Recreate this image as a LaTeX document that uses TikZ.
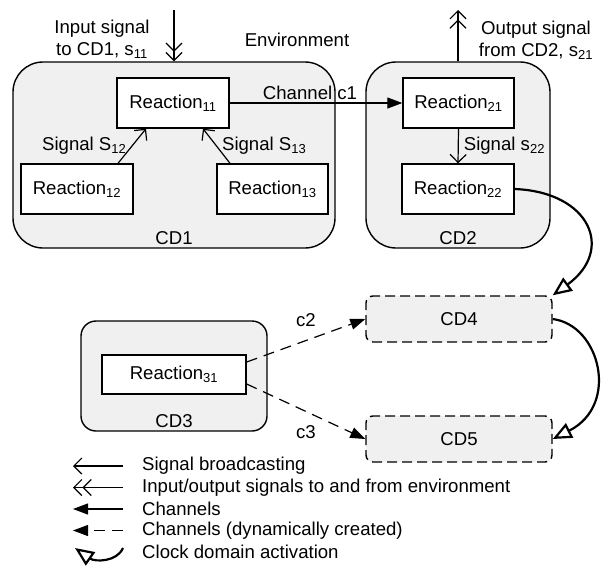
\documentclass[tikz,border=0pt]{standalone}
\usepackage{fontspec}
\setmainfont{Liberation Sans}
\usetikzlibrary{arrows.meta}

\definecolor{cdgray}{RGB}{240,240,240}

\tikzset{
  cdbox/.style={draw, fill=cdgray, line width=1.4pt, inner sep=0pt},
  dynbox/.style={draw, fill=cdgray, line width=1.4pt, dash pattern=on 10pt off 5pt,
    rounded corners=7pt, minimum width=186pt, minimum height=46pt},
  reaction/.style={draw, fill=white, line width=1.4pt, minimum width=112pt,
    minimum height=50pt, inner sep=0pt},
  sig/.style={-{Straight Barb[length=8pt,width=16pt]}, line width=1.2pt},
  envsig/.style={-{Straight Barb[length=8pt,width=16pt] Straight Barb[length=8pt,width=16pt]},
    line width=1.2pt},
  chan/.style={-{Triangle[length=15pt,width=11pt]}, line width=1.2pt},
  dynchan/.style={chan, dash pattern=on 11pt off 7pt},
  clock/.style={-{Triangle[open,length=19pt,width=16pt]}, line width=2.2pt},
}

\begin{document}
\begin{tikzpicture}[x=1pt, y=-1pt, font=\fontsize{18.6}{22}\selectfont]

  \useasboundingbox (0,0) rectangle (601,565);

  %% clock domains
  \node[cdbox, rounded corners=30pt, minimum width=322pt, minimum height=186pt,
    label={[anchor=south, inner sep=4pt]south:CD1}] (cd1) at (174,155) {};
  \node[cdbox, rounded corners=30pt, minimum width=184pt, minimum height=186pt,
    label={[anchor=south, inner sep=4pt]south:CD2}] (cd2) at (458,155) {};
  \node[cdbox, rounded corners=15pt, minimum width=186pt, minimum height=110pt,
    label={[anchor=south, inner sep=4pt]south:CD3}] (cd3) at (174,376) {};
  \node[dynbox] (cd4) at (459,319) {CD4};
  \node[dynbox] (cd5) at (459,439) {CD5};

  %% reactions
  \node[reaction] (r11) at (173,103) {Reaction\textsubscript{11}};
  \node[reaction] (r12) at (77,189) {Reaction\textsubscript{12}};
  \node[reaction, minimum width=111pt] (r13) at (272.5,189) {Reaction\textsubscript{13}};
  \node[reaction, minimum width=111pt] (r21) at (458.5,103) {Reaction\textsubscript{21}};
  \node[reaction] (r22) at (458,189) {Reaction\textsubscript{22}};
  \node[reaction, minimum width=144pt, minimum height=39pt] (r31) at (174,374.5)
    {Reaction\textsubscript{31}};

  %% environment
  \node (env) at (297,40) {Environment};
  \coordinate (inTop) at (174,10);
  \coordinate (outTop) at (458,10);
  \draw[envsig] (inTop) -- (cd1.north);
  \draw[envsig] (cd2.north) -- (outTop);
  \node[align=center] (inlbl) at (102,39) {Input signal\\to CD1, s\textsubscript{11}};
  \node[align=center] (outlbl) at (536,40) {Output signal\\from CD2, s\textsubscript{21}};

  %% signals
  \draw[sig] ([xshift=41pt]r12.north) -- node[left, inner sep=5pt]{Signal S\textsubscript{12}}
    ([xshift=-27pt]r11.south);
  \draw[sig] ([xshift=-42.5pt]r13.north) -- node[right, inner sep=5pt]{Signal S\textsubscript{13}}
    ([xshift=30pt]r11.south);
  \draw[sig] (r21.south) -- node[right, inner sep=5pt]{Signal s\textsubscript{22}} (r22.north);

  %% channels
  \draw[chan] (r11.east) -- node[above, inner sep=3pt, xshift=-6pt]{Channel c1} (r21.west);
  \draw[dynchan] ([yshift=12.5pt]r31.east) -- node[above=10pt]{c2} (cd4.west);
  \draw[dynchan] ([yshift=-9.5pt]r31.east) -- node[below=10pt]{c3} (cd5.west);

  %% clock domain activation
  \draw[clock] (r22.east) .. controls (590,192) and (615,250) .. (cd4.north east);
  \draw[clock] (cd4.east) .. controls (600,325) and (620,405) .. (cd5.east);

  %% legend
  \node[anchor=west, inner sep=3pt] (lg1) at (139,466) {Signal broadcasting};
  \node[anchor=west, inner sep=3pt] (lg2) at (139,487.5) {Input/output signals to and from environment};
  \node[anchor=west, inner sep=3pt] (lg3) at (139,509) {Channels};
  \node[anchor=west, inner sep=3pt] (lg4) at (139,530.5) {Channels (dynamically created)};
  \node[anchor=west, inner sep=3pt] (lg5) at (139,552) {Clock domain activation};

  \draw[sig] (lg1.west) ++(-16,0) -- ++(-50,0);
  \draw[envsig] (lg2.west) ++(-16,0) -- ++(-50,0);
  \draw[chan] (lg3.west) ++(-16,0) -- ++(-50,0);
  \draw[dynchan] (lg4.west) ++(-16,0) -- ++(-50,0);
  \draw[clock] (lg5.west) ++(-16,-4) .. controls +(-6,14) and +(20,14) .. ++(-48,0);

\end{tikzpicture}
\end{document}
